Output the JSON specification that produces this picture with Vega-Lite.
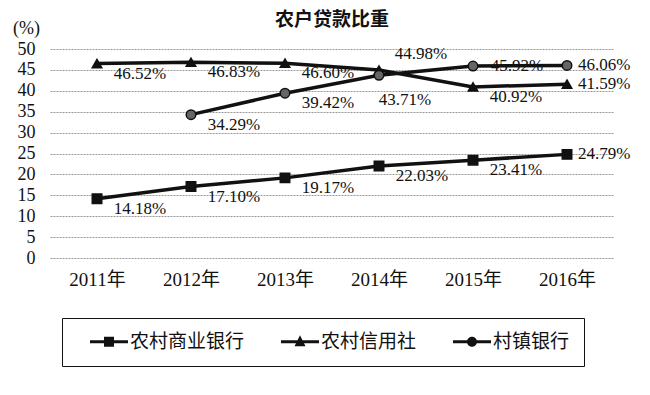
{
  "$schema": "https://vega.github.io/schema/vega-lite/v6.json",
  "autosize": {"type": "none"},
  "padding": {"left": 50, "top": 49, "right": 36, "bottom": 137},
  "width": 564,
  "height": 209,
  "background": "white",
  "title": {
    "text": "农户贷款比重",
    "font": "Noto Sans CJK SC",
    "fontSize": 19,
    "fontWeight": "bold",
    "color": "#111",
    "anchor": "middle",
    "offset": -11
  },
  "data": {
    "values": [
      {"year": "2011年", "series": "农村商业银行", "value": 14.18},
      {"year": "2012年", "series": "农村商业银行", "value": 17.10},
      {"year": "2013年", "series": "农村商业银行", "value": 19.17},
      {"year": "2014年", "series": "农村商业银行", "value": 22.03},
      {"year": "2015年", "series": "农村商业银行", "value": 23.41},
      {"year": "2016年", "series": "农村商业银行", "value": 24.79},
      {"year": "2011年", "series": "农村信用社", "value": 46.52},
      {"year": "2012年", "series": "农村信用社", "value": 46.83},
      {"year": "2013年", "series": "农村信用社", "value": 46.60},
      {"year": "2014年", "series": "农村信用社", "value": 44.98},
      {"year": "2015年", "series": "农村信用社", "value": 40.92},
      {"year": "2016年", "series": "农村信用社", "value": 41.59},
      {"year": "2012年", "series": "村镇银行", "value": 34.29},
      {"year": "2013年", "series": "村镇银行", "value": 39.42},
      {"year": "2014年", "series": "村镇银行", "value": 43.71},
      {"year": "2015年", "series": "村镇银行", "value": 45.92},
      {"year": "2016年", "series": "村镇银行", "value": 46.06}
    ]
  },
  "encoding": {
    "x": {
      "field": "year", "type": "ordinal",
      "scale": {"type": "point", "padding": 0.5},
      "axis": {
        "title": null, "labelAngle": 0, "ticks": false, "domain": false, "grid": false,
        "labelPadding": 12, "labelFont": "Liberation Serif, Noto Sans CJK SC",
        "labelFontSize": 19, "labelColor": "#111"
      }
    },
    "y": {
      "field": "value", "type": "quantitative",
      "scale": {"domain": [0, 50], "nice": false},
      "axis": {
        "values": [0, 5, 10, 15, 20, 25, 30, 35, 40, 45, 50],
        "title": "(%)", "titleAngle": 0, "titleX": -24, "titleY": -21,
        "titleAlign": "center", "titleBaseline": "middle",
        "titleFont": "Liberation Serif", "titleFontSize": 18, "titleFontWeight": "normal", "titleColor": "#111",
        "ticks": false, "domain": false, "labelPadding": 15,
        "labelFont": "Liberation Serif", "labelFontSize": 18, "labelColor": "#111",
        "grid": true, "gridColor": "#999", "gridDash": [2, 1], "gridWidth": 1
      }
    }
  },
  "layer": [
    {
      "transform": [{"filter": "datum.year !== '2016年' && !(datum.year === '2015年' && datum.series === '村镇银行') && !(datum.year === '2014年' && datum.series !== '农村商业银行')"}],
      "mark": {"type": "text", "text": {"expr": "format(datum.value, '.2f') + '%'"}, "font": "Liberation Serif", "fontSize": 17, "color": "#111", "align": "center", "baseline": "middle", "dx": 43, "dy": 10},
      "encoding": {}
    },
    {
      "transform": [{"filter": "datum.year === '2016年'"}],
      "mark": {"type": "text", "text": {"expr": "format(datum.value, '.2f') + '%'"}, "font": "Liberation Serif", "fontSize": 17, "color": "#111", "align": "left", "baseline": "middle", "dx": 11, "dy": 0},
      "encoding": {}
    },
    {
      "transform": [{"filter": "datum.year === '2015年' && datum.series === '村镇银行'"}],
      "mark": {"type": "text", "text": {"expr": "format(datum.value, '.2f') + '%'"}, "font": "Liberation Serif", "fontSize": 17, "color": "#111", "align": "center", "baseline": "middle", "dx": 44, "dy": 0},
      "encoding": {}
    },
    {
      "transform": [{"filter": "datum.year === '2014年' && datum.series === '村镇银行'"}],
      "mark": {"type": "text", "text": {"expr": "format(datum.value, '.2f') + '%'"}, "font": "Liberation Serif", "fontSize": 17, "color": "#111", "align": "center", "baseline": "middle", "dx": 26, "dy": 25},
      "encoding": {}
    },
    {
      "transform": [{"filter": "datum.year === '2014年' && datum.series === '农村信用社'"}],
      "mark": {"type": "text", "text": {"expr": "format(datum.value, '.2f') + '%'"}, "font": "Liberation Serif", "fontSize": 17, "color": "#111", "align": "center", "baseline": "middle", "dx": 42, "dy": -16},
      "encoding": {}
    },
    {
      "mark": {"type": "line", "color": "#111", "strokeWidth": 3.5},
      "encoding": {"detail": {"field": "series"}}
    },
    {
      "mark": {"type": "point", "filled": true, "size": 90, "opacity": 1, "stroke": "#111", "strokeWidth": 1.5},
      "encoding": {
        "fill": {"condition": {"test": "datum.series === '村镇银行'", "value": "#666"}, "value": "#111"},
        "shape": {
          "condition": [
            {"test": "datum.series === '农村商业银行'", "value": "square"},
            {"test": "datum.series === '农村信用社'", "value": "triangle-up"}
          ],
          "value": "circle"
        }
      }
    },
    {
      "transform": [{"filter": "datum.value < 0"}],
      "mark": {"type": "point", "filled": true, "color": "#111", "opacity": 1},
      "encoding": {
        "shape": {
          "field": "series", "type": "nominal",
          "scale": {
            "domain": ["农村商业银行", "农村信用社", "村镇银行"],
            "range": [
              "M-3.8,-0.3H3.8V0.3H-3.8Z M-1,-1H1V1H-1Z",
              "M-3.8,-0.3H3.8V0.3H-3.8Z M0,-1.3L1.1,0.9H-1.1Z",
              "M-3.8,-0.3H3.8V0.3H-3.8Z M-1,0A1,1 0 1,1 1,0A1,1 0 1,1 -1,0Z"
            ]
          },
          "legend": {
            "title": null,
            "orient": "none", "legendX": 12, "legendY": 269,
            "direction": "horizontal", "columns": 3,
            "strokeColor": "#111", "padding": 14,
            "labelFont": "Noto Sans CJK SC", "labelFontSize": 19, "labelColor": "#111",
            "symbolSize": 100, "symbolOffset": 23.5, "labelOffset": 11.5, "columnPadding": 22,
            "symbolStrokeWidth": 0, "symbolFillColor": "#111",
            "gridAlign": "each"
          }
        }
      }
    }
  ],
  "config": {
    "view": {"stroke": null}
  }
}
